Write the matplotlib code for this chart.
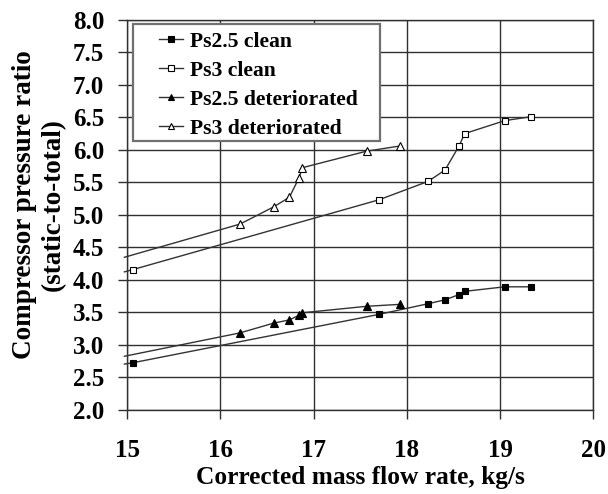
import matplotlib
matplotlib.use("Agg")
import matplotlib.pyplot as plt
from matplotlib.patches import Rectangle

plt.rcParams['font.family'] = ['Liberation Serif', 'DejaVu Serif']
plt.rcParams['font.weight'] = 'bold'

# Data
x_clean = [14.97, 15.06, 17.70, 18.23, 18.41, 18.56, 18.62, 19.05, 19.33]
ps25_clean = [2.70, 2.72, 3.465, 3.63, 3.69, 3.77, 3.82, 3.89, 3.89]
ps3_clean = [4.12, 4.155, 5.23, 5.515, 5.69, 6.06, 6.25, 6.45, 6.51]

x_det = [14.97, 16.21, 16.57, 16.74, 16.84, 16.88, 17.57, 17.93]
ps25_det = [2.82, 3.18, 3.33, 3.38, 3.45, 3.49, 3.59, 3.62]
ps3_det = [4.345, 4.856, 5.12, 5.27, 5.56, 5.725, 5.98, 6.06]

labels = ["Ps2.5 clean", "Ps3 clean", "Ps2.5 deteriorated", "Ps3 deteriorated"]
xticks = [15, 16, 17, 18, 19, 20]
yticks = [2.0, 2.5, 3.0, 3.5, 4.0, 4.5, 5.0, 5.5, 6.0, 6.5, 7.0, 7.5, 8.0]

fig = plt.figure(figsize=(6.08, 4.94), dpi=100)
ax = fig.add_axes([127.2 / 608, 1 - 409.5 / 494, (593.3 - 127.2) / 608, (409.5 - 20) / 494])

lc = '#333333'
series = [
    (x_clean, ps25_clean, 's', 'black', 4.8),
    (x_clean, ps3_clean, 's', 'white', 4.8),
    (x_det, ps25_det, '^', 'black', 5.8),
    (x_det, ps3_det, '^', 'white', 5.8),
]
handles = []
for (xs, ys, m, fc, ms), lab in zip(series, labels):
    h, = ax.plot(xs, ys, color=lc, lw=1.0, marker=m, markersize=ms,
                 markerfacecolor=fc, markeredgecolor='black', markeredgewidth=0.8,
                 markevery=list(range(1, len(xs))), label=lab, zorder=3,
                 clip_on=False)
    handles.append(h)

ax.set_xlim(15, 20)
ax.set_ylim(2.0, 8.0)
ax.set_xticks(xticks)
ax.set_xticklabels([str(v) for v in xticks])
ax.set_yticks(yticks)
ax.set_yticklabels([f"{v:.1f}" for v in yticks])
ax.grid(True, color='#303030', lw=1.0)
ax.set_axisbelow(True)
for s in ax.spines.values():
    s.set_color('#303030')
    s.set_linewidth(1.0)
ax.tick_params(axis='both', labelsize=18, direction='out', length=6.5, width=1, color='#303030')
ax.tick_params(axis='x', pad=14.5)
ax.tick_params(axis='y', pad=10)

ax.set_xlabel("Corrected mass flow rate, kg/s", fontsize=18.3, fontweight='bold', labelpad=3)
ax.set_ylabel("Compressor pressure ratio\n(static-to-total)", fontsize=19.5,
              fontweight='bold', linespacing=1.2)
ax.yaxis.set_label_coords((66 - 127.2) / 466.1, (409.5 - 205) / 389.5)

# legend frame
rect = Rectangle((133.3 / 608, 1 - 140.7 / 494), (380 - 133.3) / 608, (140.7 - 24) / 494,
                 transform=fig.transFigure, facecolor='white', edgecolor='#707070',
                 lw=1.6, zorder=4, clip_on=False)
ax.add_patch(rect)
leg = ax.legend(handles=handles, loc='upper left', bbox_to_anchor=(159.3 / 608, 1 - 31.5 / 494),
                bbox_transform=fig.transFigure, frameon=False,
                handlelength=1.1, handletextpad=0.31, labelspacing=0.41, borderpad=0.0,
                borderaxespad=0.0, prop={'weight': 'bold', 'size': 15.6})
leg.set_zorder(5)
for lh in leg.legend_handles:
    lh.set_markersize(3.8)

fig.savefig("out.png", dpi=100)
